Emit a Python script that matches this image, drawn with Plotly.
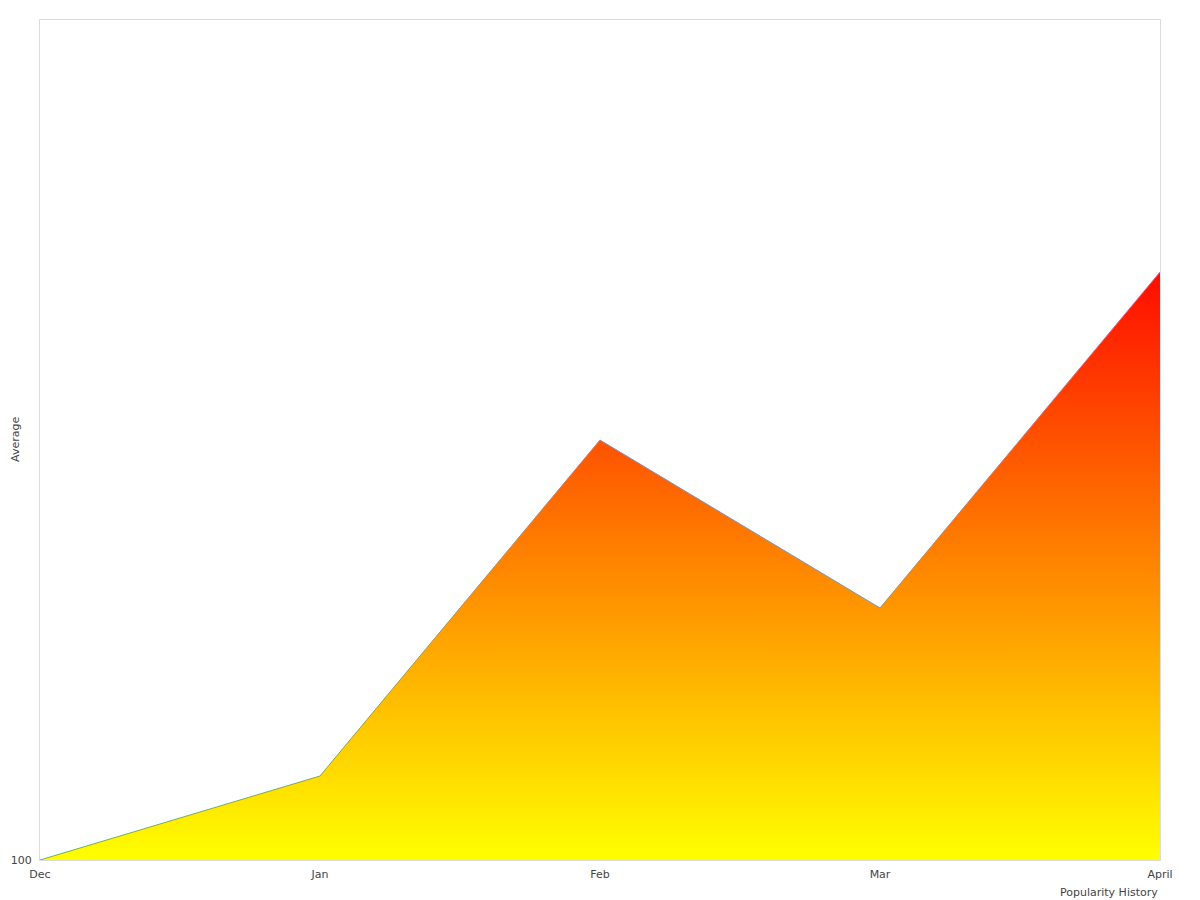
import plotly.graph_objects as go

months = ["Dec", "Jan", "Feb", "Mar", "April"]
average = [100, 110, 150, 130, 170]
y_ticks = [100]

fig = go.Figure()
fig.add_trace(go.Scatter(
    x=months, y=average, mode="lines",
    line=dict(color="#5b9ee8", width=1),
    fill="tozeroy",
    fillgradient=dict(type="vertical", start=min(average), stop=max(average),
                      colorscale=[[0, "#ffff00"], [1, "#ff0c00"]]),
    hoverinfo="x+y",
))

font = dict(family="DejaVu Sans", size=11, color="#444")
fig.update_layout(
    width=1184, height=892,
    margin=dict(l=32, r=32, t=12, b=40),
    paper_bgcolor="white", plot_bgcolor="white",
    showlegend=False,
    font=font,
    xaxis=dict(range=[0, 4], showgrid=False, zeroline=False, automargin=False,
               showline=True, mirror=True, linecolor="#dcdcdc", linewidth=1,
               ticks="", tickfont=font, ticklabelstandoff=4),
    yaxis=dict(range=[100, 200], showgrid=False, zeroline=False, automargin=False,
               showline=True, mirror=True, linecolor="#dcdcdc", linewidth=1,
               ticks="", tickvals=y_ticks, ticktext=[str(v) for v in y_ticks],
               tickfont=font, ticklabelstandoff=5),
    annotations=[
        dict(text="Popularity History", xref="paper", yref="paper",
             x=1, y=0, xanchor="right", yanchor="top", yshift=-24,
             showarrow=False, font=font),
        dict(text="Average", xref="paper", yref="paper",
             x=0, y=0.5, xanchor="center", yanchor="middle", xshift=-25,
             textangle=-90, showarrow=False, font=font),
    ],
)
fig.write_html("out.html")
